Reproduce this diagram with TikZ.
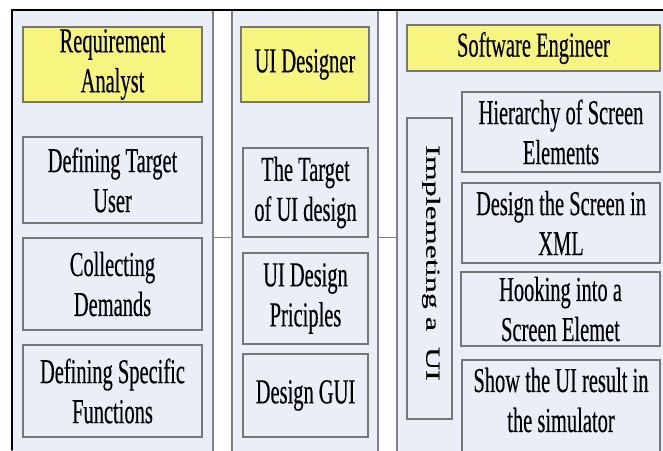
\documentclass[tikz,border=0pt]{standalone}
\usepackage{fontspec}
\newfontfamily\tnr[FakeStretch=0.585,FakeBold=0.3]{Liberation Serif}
\newfontfamily\tnrplain[FakeBold=0.3]{Liberation Serif}
\definecolor{panelfill}{RGB}{234,238,246}
\definecolor{yellowfill}{RGB}{246,245,128}
\definecolor{boxline}{RGB}{118,118,118}
\definecolor{panelline}{RGB}{130,130,130}
\tikzset{
  panel/.style={draw=panelline, line width=1.2pt, fill=panelfill, inner sep=0pt},
  item/.style={draw=boxline, line width=1.5pt, fill=panelfill, inner sep=0pt, align=center,
    font=\tnr\fontsize{35}{40}\selectfont},
  role/.style={item, fill=yellowfill},
  link/.style={draw=panelline, line width=1.4pt},
  frame/.style={draw=black, line width=2.6pt}
}
\begin{document}
\begin{tikzpicture}[x=1pt,y=-1pt]
\useasboundingbox (0,0) rectangle (663,450);
\clip (0,0) rectangle (663,450);
% panels
\node[panel, minimum width=201pt, minimum height=450pt] (p1) at (112.5,235) {};
\node[panel, minimum width=146pt, minimum height=450pt] (p2) at (305,235) {};
\node[panel, minimum width=273pt, minimum height=450pt] (p3) at (533.5,235) {};
% column 1
\node[role, minimum width=179pt, minimum height=75pt] (ra) at (112.5,64.5) {Requirement\\Analyst};
\node[item, minimum width=179pt, minimum height=86pt] (dtu) at (112.5,180) {Defining Target\\User};
\node[item, minimum width=179pt, minimum height=92pt] (cd) at (112.5,284) {Collecting\\Demands};
\node[item, minimum width=179pt, minimum height=92pt] (dsf) at (112.5,391) {Defining Specific\\Functions};
% column 2
\node[role, minimum width=128pt, minimum height=75pt] (uid) at (305,64.5) {UI Designer};
\node[item, minimum width=125pt, minimum height=89pt] (tud) at (305.5,192.5) {The Target\\of UI design};
\node[item, minimum width=125pt, minimum height=91pt] (udp) at (305.5,298.5) {UI Design\\Priciples};
\node[item, minimum width=125pt, minimum height=83pt] (dg) at (305.5,395.5) {Design GUI};
% column 3
\node[role, minimum width=253pt, minimum height=46pt] (se) at (533.5,48) {Software Engineer};
\node[item, minimum width=45pt, minimum height=301pt] (imp) at (429.5,268.5) {};
\node[rotate=-90, inner sep=0pt] (impt) at (431,263)
  {\scalebox{1}[0.62]{\tnrplain\fontsize{32}{40}\selectfont Implemeting a\ \ UI}};
\node[item, minimum width=198pt, minimum height=80pt] (hse) at (561,132) {Hierarchy of Screen\\Elements};
\node[item, minimum width=198pt, minimum height=80pt] (dsx) at (561,223) {Design the Screen in\\XML};
\node[item, minimum width=199pt, minimum height=74pt] (hk) at (560.5,309) {Hooking into a\\Screen Elemet};
\node[item, minimum width=198pt, minimum height=100pt] (sh) at (561,410) {};
\node[inner sep=0pt, align=center, font=\tnr\fontsize{35}{40}\selectfont] (sht) at (561,400)
  {Show the UI result in\\the simulator};
% connectors between panels
\draw[link] (p1.east |- cd.north) -- (p2.west |- cd.north);
\draw[link] (p2.east |- cd.north) -- (p3.west |- cd.north);
% outer frame
\coordinate (tl) at (12,10);
\coordinate (tr) at (663,10);
\coordinate (bl) at (12,450);
\draw[frame] (bl) -- (tl) -- (tr);
\end{tikzpicture}
\end{document}
